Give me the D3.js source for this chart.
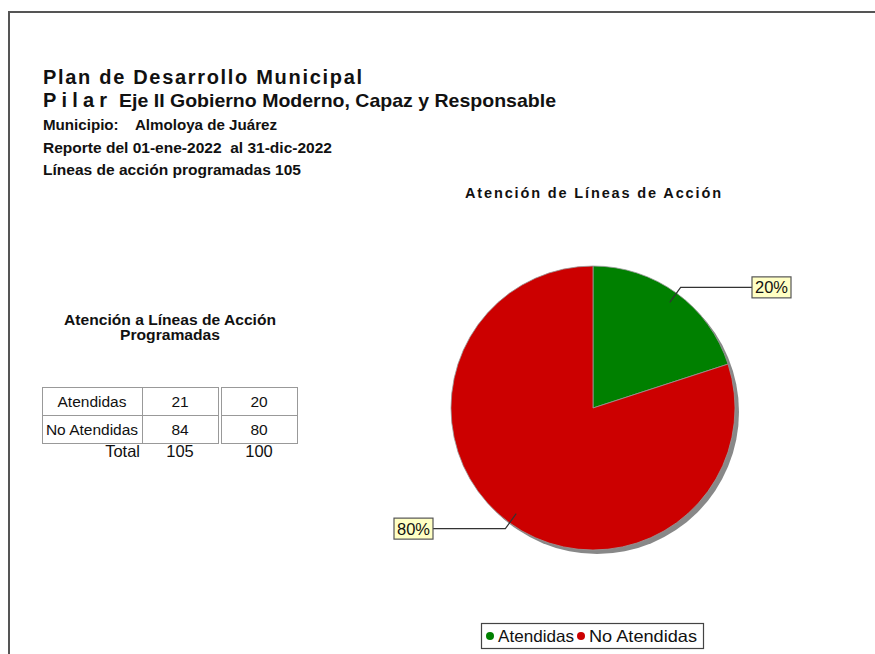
<!DOCTYPE html>
<html>
<head>
<meta charset="utf-8">
<script src="https://cdn.jsdelivr.net/npm/d3@7"></script>
<style>
  body { margin: 0; background: #fff; }
  text { font-family: "Liberation Sans", Arial, sans-serif; fill: #111; }
</style>
</head>
<body>
<div id="chart"></div>
<script>
// data
var categories = ["Atendidas", "No Atendidas"]
var counts = [21, 84]
var percents = [20, 80]
var totalLabel = "Total"
var totals = [105, 100]
var colors = ["#008000", "#cc0000"]

const width = 875, height = 654

var svg = d3.select("#chart").append("svg")
    .attr("width", width)
    .attr("height", height)

// page frame
svg.append("path")
    .attr("d", "M9,654 V12 H875")
    .attr("fill", "none")
    .attr("stroke", "#555")
    .attr("stroke-width", 2)

// header text
svg.append("text").attr("x", 43).attr("y", 84)
    .attr("font-size", 20).attr("font-weight", "bold")
    .attr("textLength", 319).attr("lengthAdjust", "spacing")
    .text("Plan de Desarrollo Municipal")
svg.append("text").attr("x", 43).attr("y", 107)
    .attr("font-size", 20).attr("font-weight", "bold")
    .attr("textLength", 64).attr("lengthAdjust", "spacing")
    .text("Pilar")
svg.append("text").attr("x", 119).attr("y", 107)
    .attr("font-size", 18.5).attr("font-weight", "bold")
    .attr("textLength", 437).attr("lengthAdjust", "spacingAndGlyphs")
    .text("Eje II Gobierno Moderno, Capaz y Responsable")

var info = ["Municipio:    Almoloya de Juárez",
            "Reporte del 01-ene-2022  al 31-dic-2022",
            "Líneas de acción programadas " + totals[0]]
var infoLen = [234, 289, 258]
svg.selectAll(".info")
    .data(info)
    .enter().append("text")
    .attr("class", "info")
    .attr("x", 43)
    .attr("y", (d, i) => 130 + i * 22.5)
    .attr("font-size", 14).attr("font-weight", "bold")
    .attr("textLength", (d, i) => infoLen[i]).attr("lengthAdjust", "spacingAndGlyphs")
    .attr("xml:space", "preserve")
    .text(d => d)

// table block
svg.append("text").attr("x", 170).attr("y", 325)
    .attr("text-anchor", "middle").attr("font-size", 14.5).attr("font-weight", "bold")
    .attr("textLength", 212).attr("lengthAdjust", "spacingAndGlyphs")
    .text("Atención a Líneas de Acción")
svg.append("text").attr("x", 170).attr("y", 340)
    .attr("text-anchor", "middle").attr("font-size", 14.5).attr("font-weight", "bold")
    .attr("textLength", 100).attr("lengthAdjust", "spacingAndGlyphs")
    .text("Programadas")

var colX = [42, 142, 221], colW = [100, 76, 76]
var rowY = d3.scaleBand().domain(categories).range([387, 443])

var rows = svg.selectAll(".row")
    .data(categories)
    .enter().append("g")
    .attr("class", "row")
    .attr("transform", d => `translate(0, ${rowY(d)})`)

rows.each(function(cat, i) {
    var g = d3.select(this)
    var cells = [cat, counts[i], percents[i]]
    cells.forEach(function(c, j) {
        g.append("rect")
            .attr("x", colX[j] + 0.5).attr("y", 0.5)
            .attr("width", colW[j]).attr("height", rowY.bandwidth())
            .attr("fill", "none").attr("stroke", "#999")
        g.append("text")
            .attr("x", colX[j] + colW[j] / 2)
            .attr("y", rowY.bandwidth() / 2 + 5.5)
            .attr("text-anchor", "middle")
            .attr("font-size", 15.5)
            .attr("fill", "#222")
            .text(c)
    })
})

var totalRow = svg.append("g").attr("transform", "translate(0, 457)")
totalRow.append("text").attr("x", 140).attr("text-anchor", "end")
    .attr("font-size", 16.5).attr("fill", "#333").text(totalLabel)
totals.forEach(function(t, j) {
    totalRow.append("text")
        .attr("x", colX[j + 1] + colW[j + 1] / 2)
        .attr("text-anchor", "middle")
        .attr("font-size", 16.5).attr("fill", "#444")
        .text(t)
})

// pie chart
var cx = 593, cy = 408, r = 142

svg.append("text").attr("x", cx).attr("y", 198)
    .attr("text-anchor", "middle").attr("font-size", 14.5).attr("font-weight", "bold")
    .attr("textLength", 256).attr("lengthAdjust", "spacing")
    .text("Atención de Líneas de Acción")

var pie = d3.pie().sort(null)
var arcs = pie(percents)
var arcGen = d3.arc().innerRadius(0).outerRadius(r)

var pieG = svg.append("g").attr("transform", `translate(${cx}, ${cy})`)

pieG.append("circle")
    .attr("cx", 4).attr("cy", 4).attr("r", r)
    .attr("fill", "#888")

pieG.selectAll(".slice")
    .data(arcs)
    .enter().append("path")
    .attr("class", "slice")
    .attr("d", arcGen)
    .attr("fill", (d, i) => colors[i])
    .attr("stroke", "#999")
    .attr("stroke-width", 0.8)

// callouts
var inner = d3.arc().innerRadius(r * 0.92).outerRadius(r * 0.92)
var outer = d3.arc().innerRadius(r * 1.05).outerRadius(r * 1.05)

arcs.forEach(function(a, i) {
    var p1 = inner.centroid(a), p2 = outer.centroid(a)
    var right = p2[0] > 0
    var xEnd = right ? r + 17 : -(r + 18)
    pieG.append("polyline")
        .attr("points", [p1, p2, [xEnd, p2[1]]].map(p => p.join(",")).join(" "))
        .attr("fill", "none").attr("stroke", "#333").attr("stroke-width", 1.2)
    var bw = 39, bh = 21
    var bx = right ? xEnd : xEnd - bw
    pieG.append("rect")
        .attr("x", bx).attr("y", p2[1] - bh / 2)
        .attr("width", bw).attr("height", bh)
        .attr("fill", "#ffffc4").attr("stroke", "#555").attr("stroke-width", 1.2)
    pieG.append("text")
        .attr("x", bx + bw / 2).attr("y", p2[1] + 6)
        .attr("text-anchor", "middle").attr("font-size", 16)
        .attr("textLength", 33).attr("lengthAdjust", "spacingAndGlyphs")
        .attr("fill", "#333")
        .text(percents[i] + "%")
})

// legend
var legend = svg.append("g").attr("transform", "translate(481, 623)")
legend.append("rect")
    .attr("x", 0.5).attr("y", 0.5).attr("width", 222).attr("height", 25)
    .attr("fill", "#fff").attr("stroke", "#444").attr("stroke-width", 1.2)
var legX = [9, 100], legLen = [76, 108]
categories.forEach(function(c, i) {
    legend.append("circle").attr("cx", legX[i]).attr("cy", 13).attr("r", 4)
        .attr("fill", colors[i])
    legend.append("text").attr("x", legX[i] + 8).attr("y", 19)
        .attr("font-size", 16.5).attr("fill", "#222")
        .attr("textLength", legLen[i]).attr("lengthAdjust", "spacingAndGlyphs")
        .text(c)
})
</script>
</body>
</html>
